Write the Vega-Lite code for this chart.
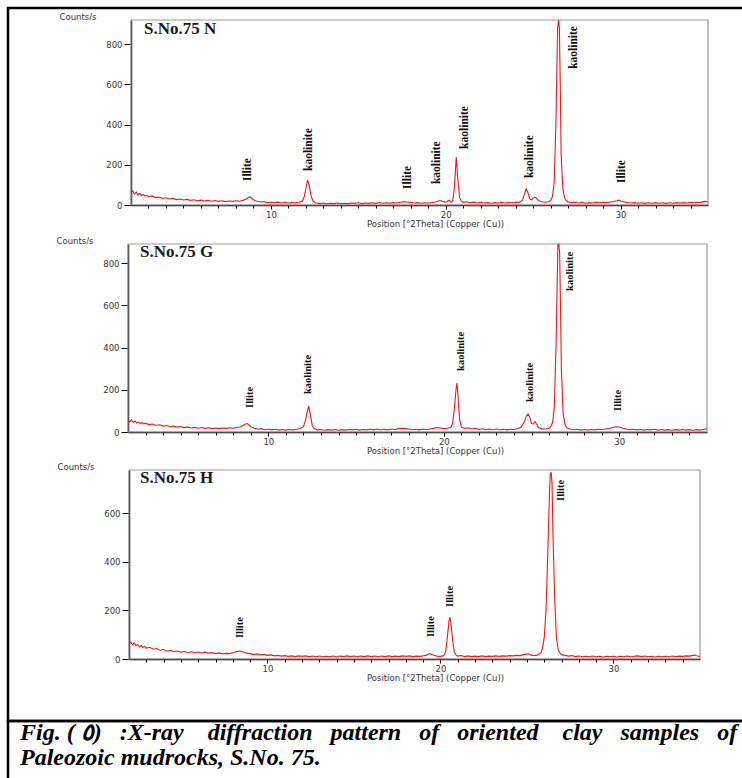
{
"$schema": "https://vega.github.io/schema/vega-lite/v6.json",
"background": "white",
"padding": {"left": 6, "top": 6, "right": 0, "bottom": 0},
"config": {
  "view": {"stroke": null},
  "axis": {"labelFont": "DejaVu Sans", "labelFontSize": 8.5, "labelColor": "#333", "titleFont": "DejaVu Sans", "titleFontSize": 8.5, "titleFontWeight": "normal", "titleColor": "#333", "domainColor": "#000", "tickColor": "#000", "grid": false},
  "axisY": {"domainWidth": 1.5, "tickSize": 7, "labelPadding": 2, "titleAngle": 0, "titleAlign": "left", "titleX": -72, "titleBaseline": "middle"},
  "axisX": {"domainWidth": 1.5, "tickSize": 3, "labelPadding": 1, "titleX": 427, "titleY": 18, "titleBaseline": "middle"}
},
"datasets": {
"n": [
{"t":2.0,"c":62},{"t":2.1,"c":70},{"t":2.2,"c":55},{"t":2.3,"c":64},{"t":2.4,"c":50},{"t":2.5,"c":58},{"t":2.6,"c":47},{"t":2.7,"c":52},{"t":2.8,"c":44},{"t":2.9,"c":49},{"t":3.0,"c":41},{"t":3.2,"c":45},{"t":3.4,"c":37},{"t":3.6,"c":40},{"t":3.8,"c":33},{"t":4.0,"c":36},{"t":4.2,"c":30},{"t":4.4,"c":33},{"t":4.6,"c":27},{"t":4.8,"c":30},{"t":5.0,"c":25},{"t":5.2,"c":28},{"t":5.4,"c":23},{"t":5.6,"c":26},{"t":5.8,"c":21},{"t":6.0,"c":24},{"t":6.2,"c":20},{"t":6.4,"c":23},{"t":6.6,"c":19},{"t":6.8,"c":22},{"t":7.0,"c":18},{"t":7.2,"c":21},{"t":7.4,"c":17},{"t":7.6,"c":20},{"t":7.8,"c":18},{"t":8.0,"c":21},{"t":8.2,"c":19},{"t":8.4,"c":23},{"t":8.6,"c":30},{"t":8.7,"c":37},{"t":8.8,"c":40},{"t":8.9,"c":34},{"t":9.0,"c":26},{"t":9.2,"c":19},{"t":9.4,"c":15},{"t":9.6,"c":17},{"t":9.8,"c":12},{"t":10.0,"c":15},{"t":10.2,"c":11},{"t":10.4,"c":14},{"t":10.6,"c":10},{"t":10.8,"c":13},{"t":11.0,"c":10},{"t":11.2,"c":12},{"t":11.4,"c":11},{"t":11.6,"c":14},{"t":11.8,"c":20},{"t":11.9,"c":38},{"t":12.0,"c":80},{"t":12.1,"c":124},{"t":12.2,"c":95},{"t":12.3,"c":45},{"t":12.4,"c":22},{"t":12.5,"c":14},{"t":12.6,"c":10},{"t":12.8,"c":7},{"t":13.0,"c":10},{"t":13.2,"c":6},{"t":13.4,"c":9},{"t":13.6,"c":7},{"t":13.8,"c":10},{"t":14.0,"c":6},{"t":14.2,"c":9},{"t":14.4,"c":7},{"t":14.6,"c":10},{"t":14.8,"c":8},{"t":15.0,"c":11},{"t":15.2,"c":7},{"t":15.4,"c":10},{"t":15.6,"c":8},{"t":15.8,"c":11},{"t":16.0,"c":8},{"t":16.2,"c":12},{"t":16.4,"c":9},{"t":16.6,"c":11},{"t":16.8,"c":9},{"t":17.0,"c":12},{"t":17.2,"c":10},{"t":17.4,"c":14},{"t":17.6,"c":16},{"t":17.8,"c":15},{"t":18.0,"c":13},{"t":18.2,"c":10},{"t":18.4,"c":12},{"t":18.6,"c":9},{"t":18.8,"c":11},{"t":19.0,"c":10},{"t":19.2,"c":12},{"t":19.4,"c":15},{"t":19.6,"c":20},{"t":19.7,"c":22},{"t":19.8,"c":18},{"t":20.0,"c":14},{"t":20.1,"c":20},{"t":20.2,"c":23},{"t":20.3,"c":14},{"t":20.4,"c":20},{"t":20.5,"c":90},{"t":20.6,"c":238},{"t":20.7,"c":120},{"t":20.8,"c":35},{"t":20.9,"c":18},{"t":21.0,"c":13},{"t":21.2,"c":16},{"t":21.4,"c":11},{"t":21.6,"c":14},{"t":21.8,"c":10},{"t":22.0,"c":13},{"t":22.2,"c":10},{"t":22.4,"c":12},{"t":22.6,"c":9},{"t":22.8,"c":12},{"t":23.0,"c":10},{"t":23.2,"c":13},{"t":23.4,"c":10},{"t":23.6,"c":12},{"t":23.8,"c":11},{"t":24.0,"c":14},{"t":24.2,"c":13},{"t":24.4,"c":25},{"t":24.5,"c":55},{"t":24.6,"c":80},{"t":24.7,"c":62},{"t":24.8,"c":32},{"t":24.9,"c":25},{"t":25.0,"c":33},{"t":25.1,"c":40},{"t":25.2,"c":32},{"t":25.3,"c":22},{"t":25.5,"c":16},{"t":25.7,"c":14},{"t":25.9,"c":16},{"t":26.0,"c":22},{"t":26.1,"c":40},{"t":26.2,"c":110},{"t":26.3,"c":400},{"t":26.4,"c":880},{"t":26.45,"c":920},{"t":26.5,"c":880},{"t":26.55,"c":600},{"t":26.6,"c":250},{"t":26.7,"c":80},{"t":26.8,"c":35},{"t":26.9,"c":22},{"t":27.0,"c":16},{"t":27.2,"c":12},{"t":27.4,"c":14},{"t":27.6,"c":10},{"t":27.8,"c":13},{"t":28.0,"c":9},{"t":28.2,"c":12},{"t":28.4,"c":10},{"t":28.6,"c":13},{"t":28.8,"c":11},{"t":29.0,"c":14},{"t":29.2,"c":12},{"t":29.4,"c":15},{"t":29.6,"c":17},{"t":29.8,"c":21},{"t":29.9,"c":24},{"t":30.0,"c":20},{"t":30.2,"c":16},{"t":30.4,"c":12},{"t":30.6,"c":10},{"t":30.8,"c":12},{"t":31.0,"c":9},{"t":31.2,"c":11},{"t":31.4,"c":8},{"t":31.6,"c":11},{"t":31.8,"c":9},{"t":32.0,"c":12},{"t":32.2,"c":9},{"t":32.4,"c":11},{"t":32.6,"c":8},{"t":32.8,"c":11},{"t":33.0,"c":9},{"t":33.2,"c":12},{"t":33.4,"c":10},{"t":33.6,"c":12},{"t":33.8,"c":10},{"t":34.0,"c":13},{"t":34.2,"c":11},{"t":34.4,"c":14},{"t":34.6,"c":13},{"t":34.8,"c":18},{"t":34.9,"c":17},{"t":35.0,"c":15}
],
"g": [
{"t":2.0,"c":55},{"t":2.1,"c":48},{"t":2.2,"c":58},{"t":2.3,"c":45},{"t":2.4,"c":52},{"t":2.5,"c":42},{"t":2.6,"c":48},{"t":2.7,"c":40},{"t":2.8,"c":45},{"t":2.9,"c":38},{"t":3.0,"c":42},{"t":3.2,"c":35},{"t":3.4,"c":38},{"t":3.6,"c":31},{"t":3.8,"c":34},{"t":4.0,"c":28},{"t":4.2,"c":31},{"t":4.4,"c":25},{"t":4.6,"c":28},{"t":4.8,"c":23},{"t":5.0,"c":26},{"t":5.2,"c":21},{"t":5.4,"c":24},{"t":5.6,"c":19},{"t":5.8,"c":22},{"t":6.0,"c":18},{"t":6.2,"c":21},{"t":6.4,"c":17},{"t":6.6,"c":20},{"t":6.8,"c":16},{"t":7.0,"c":19},{"t":7.2,"c":16},{"t":7.4,"c":19},{"t":7.6,"c":17},{"t":7.8,"c":20},{"t":8.0,"c":18},{"t":8.2,"c":21},{"t":8.4,"c":24},{"t":8.6,"c":33},{"t":8.7,"c":38},{"t":8.8,"c":40},{"t":8.9,"c":33},{"t":9.0,"c":25},{"t":9.2,"c":18},{"t":9.4,"c":14},{"t":9.6,"c":16},{"t":9.8,"c":11},{"t":10.0,"c":14},{"t":10.2,"c":10},{"t":10.4,"c":13},{"t":10.6,"c":9},{"t":10.8,"c":12},{"t":11.0,"c":9},{"t":11.2,"c":12},{"t":11.4,"c":10},{"t":11.6,"c":13},{"t":11.8,"c":15},{"t":12.0,"c":25},{"t":12.1,"c":50},{"t":12.2,"c":90},{"t":12.3,"c":123},{"t":12.4,"c":80},{"t":12.5,"c":30},{"t":12.6,"c":16},{"t":12.8,"c":10},{"t":13.0,"c":12},{"t":13.2,"c":8},{"t":13.4,"c":11},{"t":13.6,"c":9},{"t":13.8,"c":12},{"t":14.0,"c":8},{"t":14.2,"c":11},{"t":14.4,"c":9},{"t":14.6,"c":12},{"t":14.8,"c":10},{"t":15.0,"c":13},{"t":15.2,"c":9},{"t":15.4,"c":12},{"t":15.6,"c":10},{"t":15.8,"c":13},{"t":16.0,"c":10},{"t":16.2,"c":14},{"t":16.4,"c":11},{"t":16.6,"c":13},{"t":16.8,"c":10},{"t":17.0,"c":14},{"t":17.2,"c":12},{"t":17.4,"c":16},{"t":17.6,"c":18},{"t":17.8,"c":16},{"t":18.0,"c":14},{"t":18.2,"c":11},{"t":18.4,"c":13},{"t":18.6,"c":10},{"t":18.8,"c":13},{"t":19.0,"c":11},{"t":19.2,"c":14},{"t":19.4,"c":17},{"t":19.6,"c":21},{"t":19.8,"c":19},{"t":20.0,"c":16},{"t":20.2,"c":18},{"t":20.4,"c":22},{"t":20.5,"c":40},{"t":20.6,"c":110},{"t":20.7,"c":205},{"t":20.75,"c":232},{"t":20.8,"c":180},{"t":20.9,"c":60},{"t":21.0,"c":22},{"t":21.2,"c":17},{"t":21.4,"c":20},{"t":21.6,"c":14},{"t":21.8,"c":17},{"t":22.0,"c":12},{"t":22.2,"c":15},{"t":22.4,"c":11},{"t":22.6,"c":14},{"t":22.8,"c":11},{"t":23.0,"c":14},{"t":23.2,"c":11},{"t":23.4,"c":13},{"t":23.6,"c":10},{"t":23.8,"c":13},{"t":24.0,"c":12},{"t":24.2,"c":15},{"t":24.4,"c":22},{"t":24.6,"c":50},{"t":24.7,"c":75},{"t":24.8,"c":85},{"t":24.9,"c":70},{"t":25.0,"c":40},{"t":25.1,"c":38},{"t":25.2,"c":50},{"t":25.3,"c":35},{"t":25.4,"c":20},{"t":25.6,"c":15},{"t":25.8,"c":14},{"t":26.0,"c":18},{"t":26.1,"c":26},{"t":26.2,"c":45},{"t":26.3,"c":120},{"t":26.4,"c":420},{"t":26.5,"c":885},{"t":26.55,"c":890},{"t":26.6,"c":850},{"t":26.65,"c":600},{"t":26.7,"c":300},{"t":26.8,"c":90},{"t":26.9,"c":38},{"t":27.0,"c":20},{"t":27.2,"c":14},{"t":27.4,"c":11},{"t":27.6,"c":13},{"t":27.8,"c":9},{"t":28.0,"c":12},{"t":28.2,"c":9},{"t":28.4,"c":12},{"t":28.6,"c":10},{"t":28.8,"c":13},{"t":29.0,"c":11},{"t":29.2,"c":14},{"t":29.4,"c":16},{"t":29.6,"c":20},{"t":29.8,"c":25},{"t":30.0,"c":24},{"t":30.2,"c":18},{"t":30.4,"c":14},{"t":30.6,"c":11},{"t":30.8,"c":13},{"t":31.0,"c":10},{"t":31.2,"c":12},{"t":31.4,"c":9},{"t":31.6,"c":12},{"t":31.8,"c":10},{"t":32.0,"c":13},{"t":32.2,"c":9},{"t":32.4,"c":12},{"t":32.6,"c":9},{"t":32.8,"c":11},{"t":33.0,"c":8},{"t":33.2,"c":11},{"t":33.4,"c":9},{"t":33.6,"c":12},{"t":33.8,"c":9},{"t":34.0,"c":11},{"t":34.2,"c":8},{"t":34.4,"c":11},{"t":34.6,"c":9},{"t":34.8,"c":12},{"t":35.0,"c":15}
],
"h": [
{"t":2.0,"c":62},{"t":2.1,"c":70},{"t":2.2,"c":58},{"t":2.3,"c":66},{"t":2.4,"c":55},{"t":2.5,"c":60},{"t":2.6,"c":50},{"t":2.7,"c":56},{"t":2.8,"c":47},{"t":2.9,"c":52},{"t":3.0,"c":45},{"t":3.2,"c":48},{"t":3.4,"c":40},{"t":3.6,"c":43},{"t":3.8,"c":36},{"t":4.0,"c":39},{"t":4.2,"c":33},{"t":4.4,"c":36},{"t":4.6,"c":30},{"t":4.8,"c":33},{"t":5.0,"c":28},{"t":5.2,"c":31},{"t":5.4,"c":27},{"t":5.6,"c":30},{"t":5.8,"c":26},{"t":6.0,"c":29},{"t":6.2,"c":25},{"t":6.4,"c":28},{"t":6.6,"c":24},{"t":6.8,"c":26},{"t":7.0,"c":22},{"t":7.2,"c":25},{"t":7.4,"c":21},{"t":7.6,"c":23},{"t":7.8,"c":22},{"t":8.0,"c":26},{"t":8.2,"c":30},{"t":8.4,"c":33},{"t":8.5,"c":32},{"t":8.6,"c":29},{"t":8.8,"c":24},{"t":9.0,"c":22},{"t":9.2,"c":18},{"t":9.4,"c":21},{"t":9.6,"c":17},{"t":9.8,"c":19},{"t":10.0,"c":15},{"t":10.2,"c":17},{"t":10.4,"c":13},{"t":10.6,"c":15},{"t":10.8,"c":12},{"t":11.0,"c":14},{"t":11.2,"c":11},{"t":11.4,"c":13},{"t":11.6,"c":10},{"t":11.8,"c":13},{"t":12.0,"c":11},{"t":12.2,"c":13},{"t":12.4,"c":10},{"t":12.6,"c":12},{"t":12.8,"c":9},{"t":13.0,"c":12},{"t":13.2,"c":9},{"t":13.4,"c":11},{"t":13.6,"c":9},{"t":13.8,"c":12},{"t":14.0,"c":9},{"t":14.2,"c":12},{"t":14.4,"c":10},{"t":14.6,"c":13},{"t":14.8,"c":10},{"t":15.0,"c":12},{"t":15.2,"c":9},{"t":15.4,"c":12},{"t":15.6,"c":10},{"t":15.8,"c":13},{"t":16.0,"c":10},{"t":16.2,"c":12},{"t":16.4,"c":9},{"t":16.6,"c":12},{"t":16.8,"c":10},{"t":17.0,"c":13},{"t":17.2,"c":10},{"t":17.4,"c":12},{"t":17.6,"c":10},{"t":17.8,"c":13},{"t":18.0,"c":11},{"t":18.2,"c":13},{"t":18.4,"c":10},{"t":18.6,"c":12},{"t":18.8,"c":11},{"t":19.0,"c":13},{"t":19.2,"c":16},{"t":19.3,"c":20},{"t":19.4,"c":22},{"t":19.5,"c":19},{"t":19.6,"c":15},{"t":19.8,"c":12},{"t":20.0,"c":11},{"t":20.2,"c":14},{"t":20.3,"c":30},{"t":20.4,"c":90},{"t":20.5,"c":160},{"t":20.55,"c":172},{"t":20.6,"c":150},{"t":20.7,"c":80},{"t":20.8,"c":30},{"t":20.9,"c":16},{"t":21.0,"c":12},{"t":21.2,"c":14},{"t":21.4,"c":10},{"t":21.6,"c":13},{"t":21.8,"c":10},{"t":22.0,"c":12},{"t":22.2,"c":10},{"t":22.4,"c":13},{"t":22.6,"c":10},{"t":22.8,"c":12},{"t":23.0,"c":11},{"t":23.2,"c":13},{"t":23.4,"c":11},{"t":23.6,"c":13},{"t":23.8,"c":12},{"t":24.0,"c":14},{"t":24.2,"c":13},{"t":24.4,"c":15},{"t":24.6,"c":14},{"t":24.8,"c":18},{"t":25.0,"c":20},{"t":25.1,"c":21},{"t":25.2,"c":17},{"t":25.4,"c":14},{"t":25.6,"c":16},{"t":25.8,"c":25},{"t":25.9,"c":45},{"t":26.0,"c":90},{"t":26.1,"c":200},{"t":26.2,"c":430},{"t":26.3,"c":680},{"t":26.35,"c":760},{"t":26.4,"c":768},{"t":26.45,"c":720},{"t":26.5,"c":520},{"t":26.6,"c":250},{"t":26.7,"c":90},{"t":26.8,"c":40},{"t":26.9,"c":25},{"t":27.0,"c":18},{"t":27.2,"c":15},{"t":27.4,"c":12},{"t":27.6,"c":14},{"t":27.8,"c":10},{"t":28.0,"c":12},{"t":28.2,"c":9},{"t":28.4,"c":11},{"t":28.6,"c":9},{"t":28.8,"c":12},{"t":29.0,"c":9},{"t":29.2,"c":11},{"t":29.4,"c":8},{"t":29.6,"c":11},{"t":29.8,"c":9},{"t":30.0,"c":11},{"t":30.2,"c":8},{"t":30.4,"c":11},{"t":30.6,"c":9},{"t":30.8,"c":12},{"t":31.0,"c":9},{"t":31.2,"c":11},{"t":31.4,"c":13},{"t":31.6,"c":10},{"t":31.8,"c":12},{"t":32.0,"c":9},{"t":32.2,"c":11},{"t":32.4,"c":8},{"t":32.6,"c":11},{"t":32.8,"c":9},{"t":33.0,"c":11},{"t":33.2,"c":9},{"t":33.4,"c":12},{"t":33.6,"c":10},{"t":33.8,"c":12},{"t":34.0,"c":11},{"t":34.2,"c":13},{"t":34.4,"c":12},{"t":34.6,"c":15},{"t":34.7,"c":16},{"t":34.8,"c":13},{"t":35.0,"c":10}
],
"labels": [
{"s":"N","t":8.70,"c":119,"label":"Illite"},{"s":"N","t":12.2,"c":169,"label":"kaolinite"},{"s":"N","t":17.82,"c":80,"label":"Illite"},{"s":"N","t":19.48,"c":104,"label":"kaolinite"},{"s":"N","t":21.08,"c":279,"label":"kaolinite"},{"s":"N","t":24.8,"c":134,"label":"kaolinite"},{"s":"N","t":27.33,"c":677,"label":"kaolinite"},{"s":"N","t":30.08,"c":109,"label":"Illite"},
{"s":"G","t":8.93,"c":114,"label":"Illite"},{"s":"G","t":12.28,"c":180,"label":"kaolinite"},{"s":"G","t":20.98,"c":289,"label":"kaolinite"},{"s":"G","t":24.9,"c":142,"label":"kaolinite"},{"s":"G","t":27.17,"c":668,"label":"kaolinite"},{"s":"G","t":29.9,"c":100,"label":"Illite"},
{"s":"H","t":8.42,"c":86,"label":"Illite"},{"s":"H","t":19.46,"c":90,"label":"Illite"},{"s":"H","t":20.55,"c":214,"label":"Illite"},{"s":"H","t":26.97,"c":650,"label":"Illite"}
]
},
"spacing": 0,
"bounds": "flush",
"vconcat": [
 {
  "width": 820, "height": 713,
  "view": {"stroke": "#000", "strokeWidth": 2.5, "fill": "white"},
  "title": {"text": ["Fig. ( ٥) \u00a0\u00a0:X-ray \u00a0\u00a0\u00a0diffraction \u00a0\u00a0pattern \u00a0\u00a0of \u00a0\u00a0oriented \u00a0\u00a0\u00a0clay \u00a0\u00a0samples \u00a0\u00a0of", "Paleozoic mudrocks, S.No. 75."], "orient": "bottom", "anchor": "start", "frame": "group", "offset": 19, "dx": 12, "baseline": "alphabetic", "lineHeight": 25, "font": "Liberation Serif", "fontSize": 24, "fontWeight": "bold", "fontStyle": "italic", "color": "#000"},
  "resolve": {"scale": {"x": "independent", "y": "independent"}, "axis": {"x": "independent", "y": "independent"}},
  "layer": [
   {
    "layer": [
     {"data": {"values": [{}]}, "mark": {"type": "rect", "fillOpacity": 0, "stroke": "#999", "strokeWidth": 1.2},
      "encoding": {
       "x": {"datum": 2, "type": "quantitative", "title": "Position [°2Theta] (Copper (Cu))", "scale": {"domain": [2, 35], "range": [123, 700], "nice": false, "zero": false}, "axis": {"orient": "bottom", "offset": -516, "values": [10, 20, 30], "tickSize": 4}},
       "x2": {"datum": 35},
       "y": {"datum": 0, "type": "quantitative", "title": "Counts/s", "scale": {"domain": [0, 920], "range": [197, 12], "nice": false, "zero": false}, "axis": {"orient": "left", "offset": -123, "values": [0,200,400,600,800], "titleY": 8}},
       "y2": {"datum": 920}
      }},
     {"data": {"name": "n"}, "mark": {"type": "line", "color": "#f01818", "strokeWidth": 1.1, "clip": true},
      "encoding": {"x": {"field": "t", "type": "quantitative", "title": "Position [°2Theta] (Copper (Cu))"}, "y": {"field": "c", "type": "quantitative", "title": "Counts/s"}}},
     {"data": {"name": "labels"}, "transform": [{"filter": "datum.s === 'N'"}],
      "mark": {"type": "text", "angle": 270, "align": "left", "baseline": "middle", "font": "Liberation Serif", "fontWeight": "bold", "fontSize": 11.5, "color": "#111"},
      "encoding": {"x": {"field": "t", "type": "quantitative", "title": "Position [°2Theta] (Copper (Cu))"}, "y": {"field": "c", "type": "quantitative", "title": "Counts/s"}, "text": {"field": "label"}}},
     {"data": {"values": [{"name": "S.No.75 N"}]},
      "mark": {"type": "text", "align": "left", "baseline": "middle", "font": "Liberation Serif", "fontWeight": "bold", "fontSize": 17, "color": "#1a1a1a"},
      "encoding": {"x": {"datum": 2.75, "type": "quantitative", "title": "Position [°2Theta] (Copper (Cu))"}, "y": {"datum": 876, "type": "quantitative", "title": "Counts/s"}, "text": {"field": "name"}}}
    ]
   },
   {
    "layer": [
     {"data": {"values": [{}]}, "mark": {"type": "rect", "fillOpacity": 0, "stroke": "#999", "strokeWidth": 1.2},
      "encoding": {
       "x": {"datum": 2, "type": "quantitative", "title": "Position [°2Theta] (Copper (Cu))", "scale": {"domain": [2, 35], "range": [120, 699], "nice": false, "zero": false}, "axis": {"orient": "bottom", "offset": -289, "values": [10, 20, 30], "tickSize": 4}},
       "x2": {"datum": 35},
       "y": {"datum": 0, "type": "quantitative", "title": "Counts/s", "scale": {"domain": [0, 890], "range": [424, 236], "nice": false, "zero": false}, "axis": {"orient": "left", "offset": -120, "values": [0,200,400,600,800], "titleY": 232}},
       "y2": {"datum": 890}
      }},
     {"data": {"name": "g"}, "mark": {"type": "line", "color": "#f01818", "strokeWidth": 1.1, "clip": true},
      "encoding": {"x": {"field": "t", "type": "quantitative", "title": "Position [°2Theta] (Copper (Cu))"}, "y": {"field": "c", "type": "quantitative", "title": "Counts/s"}}},
     {"data": {"name": "labels"}, "transform": [{"filter": "datum.s === 'G'"}],
      "mark": {"type": "text", "angle": 270, "align": "left", "baseline": "middle", "font": "Liberation Serif", "fontWeight": "bold", "fontSize": 10.5, "color": "#111"},
      "encoding": {"x": {"field": "t", "type": "quantitative", "title": "Position [°2Theta] (Copper (Cu))"}, "y": {"field": "c", "type": "quantitative", "title": "Counts/s"}, "text": {"field": "label"}}},
     {"data": {"values": [{"name": "S.No.75 G"}]},
      "mark": {"type": "text", "align": "left", "baseline": "middle", "font": "Liberation Serif", "fontWeight": "bold", "fontSize": 17, "color": "#1a1a1a"},
      "encoding": {"x": {"datum": 2.68, "type": "quantitative", "title": "Position [°2Theta] (Copper (Cu))"}, "y": {"datum": 852, "type": "quantitative", "title": "Counts/s"}, "text": {"field": "name"}}}
    ]
   },
   {
    "layer": [
     {"data": {"values": [{}]}, "mark": {"type": "rect", "fillOpacity": 0, "stroke": "#999", "strokeWidth": 1.2},
      "encoding": {
       "x": {"datum": 2, "type": "quantitative", "title": "Position [°2Theta] (Copper (Cu))", "scale": {"domain": [2, 35], "range": [121, 692], "nice": false, "zero": false}, "axis": {"orient": "bottom", "offset": -62, "values": [10, 20, 30], "tickSize": 4}},
       "x2": {"datum": 35},
       "y": {"datum": 0, "type": "quantitative", "title": "Counts/s", "scale": {"domain": [0, 777], "range": [651, 462], "nice": false, "zero": false}, "axis": {"orient": "left", "offset": -121, "values": [0,200,400,600], "titleY": 458}},
       "y2": {"datum": 777}
      }},
     {"data": {"name": "h"}, "mark": {"type": "line", "color": "#f01818", "strokeWidth": 1.1, "clip": true},
      "encoding": {"x": {"field": "t", "type": "quantitative", "title": "Position [°2Theta] (Copper (Cu))"}, "y": {"field": "c", "type": "quantitative", "title": "Counts/s"}}},
     {"data": {"name": "labels"}, "transform": [{"filter": "datum.s === 'H'"}],
      "mark": {"type": "text", "angle": 270, "align": "left", "baseline": "middle", "font": "Liberation Serif", "fontWeight": "bold", "fontSize": 10.5, "color": "#111"},
      "encoding": {"x": {"field": "t", "type": "quantitative", "title": "Position [°2Theta] (Copper (Cu))"}, "y": {"field": "c", "type": "quantitative", "title": "Counts/s"}, "text": {"field": "label"}}},
     {"data": {"values": [{"name": "S.No.75 H"}]},
      "mark": {"type": "text", "align": "left", "baseline": "middle", "font": "Liberation Serif", "fontWeight": "bold", "fontSize": 17, "color": "#1a1a1a"},
      "encoding": {"x": {"datum": 2.64, "type": "quantitative", "title": "Position [°2Theta] (Copper (Cu))"}, "y": {"datum": 744, "type": "quantitative", "title": "Counts/s"}, "text": {"field": "name"}}}
    ]
   },
   {"data": {"values": [{}]}, "mark": {"type": "point", "opacity": 0},
    "encoding": {
     "x": {"datum": 2, "type": "quantitative", "scale": {"domain": [2, 35], "range": [123, 700], "nice": false, "zero": false}, "axis": {"orient": "bottom", "offset": -516, "values": [3,4,5,6,7,8,9,11,12,13,14,15,16,17,18,19,21,22,23,24,25,26,27,28,29,31,32,33,34], "labels": false, "domain": false, "title": null, "tickSize": 3}},
     "y": {"datum": 0, "type": "quantitative", "scale": {"domain": [0, 920], "range": [197, 12], "nice": false, "zero": false}, "axis": null}
    }},
   {"data": {"values": [{}]}, "mark": {"type": "point", "opacity": 0},
    "encoding": {
     "x": {"datum": 2, "type": "quantitative", "scale": {"domain": [2, 35], "range": [120, 699], "nice": false, "zero": false}, "axis": {"orient": "bottom", "offset": -289, "values": [3,4,5,6,7,8,9,11,12,13,14,15,16,17,18,19,21,22,23,24,25,26,27,28,29,31,32,33,34], "labels": false, "domain": false, "title": null, "tickSize": 3}},
     "y": {"datum": 0, "type": "quantitative", "scale": {"domain": [0, 890], "range": [424, 236], "nice": false, "zero": false}, "axis": null}
    }},
   {"data": {"values": [{}]}, "mark": {"type": "point", "opacity": 0},
    "encoding": {
     "x": {"datum": 2, "type": "quantitative", "scale": {"domain": [2, 35], "range": [121, 692], "nice": false, "zero": false}, "axis": {"orient": "bottom", "offset": -62, "values": [3,4,5,6,7,8,9,11,12,13,14,15,16,17,18,19,21,22,23,24,25,26,27,28,29,31,32,33,34], "labels": false, "domain": false, "title": null, "tickSize": 3}},
     "y": {"datum": 0, "type": "quantitative", "scale": {"domain": [0, 777], "range": [651, 462], "nice": false, "zero": false}, "axis": null}
    }}
  ]
 },
 {
  "width": 820, "height": 70,
  "view": {"stroke": "#000", "strokeWidth": 2.5, "fill": null},
  "data": {"values": [{}]},
  "mark": {"type": "text"},
  "encoding": {"text": {"value": ""}}
 }
]
}
